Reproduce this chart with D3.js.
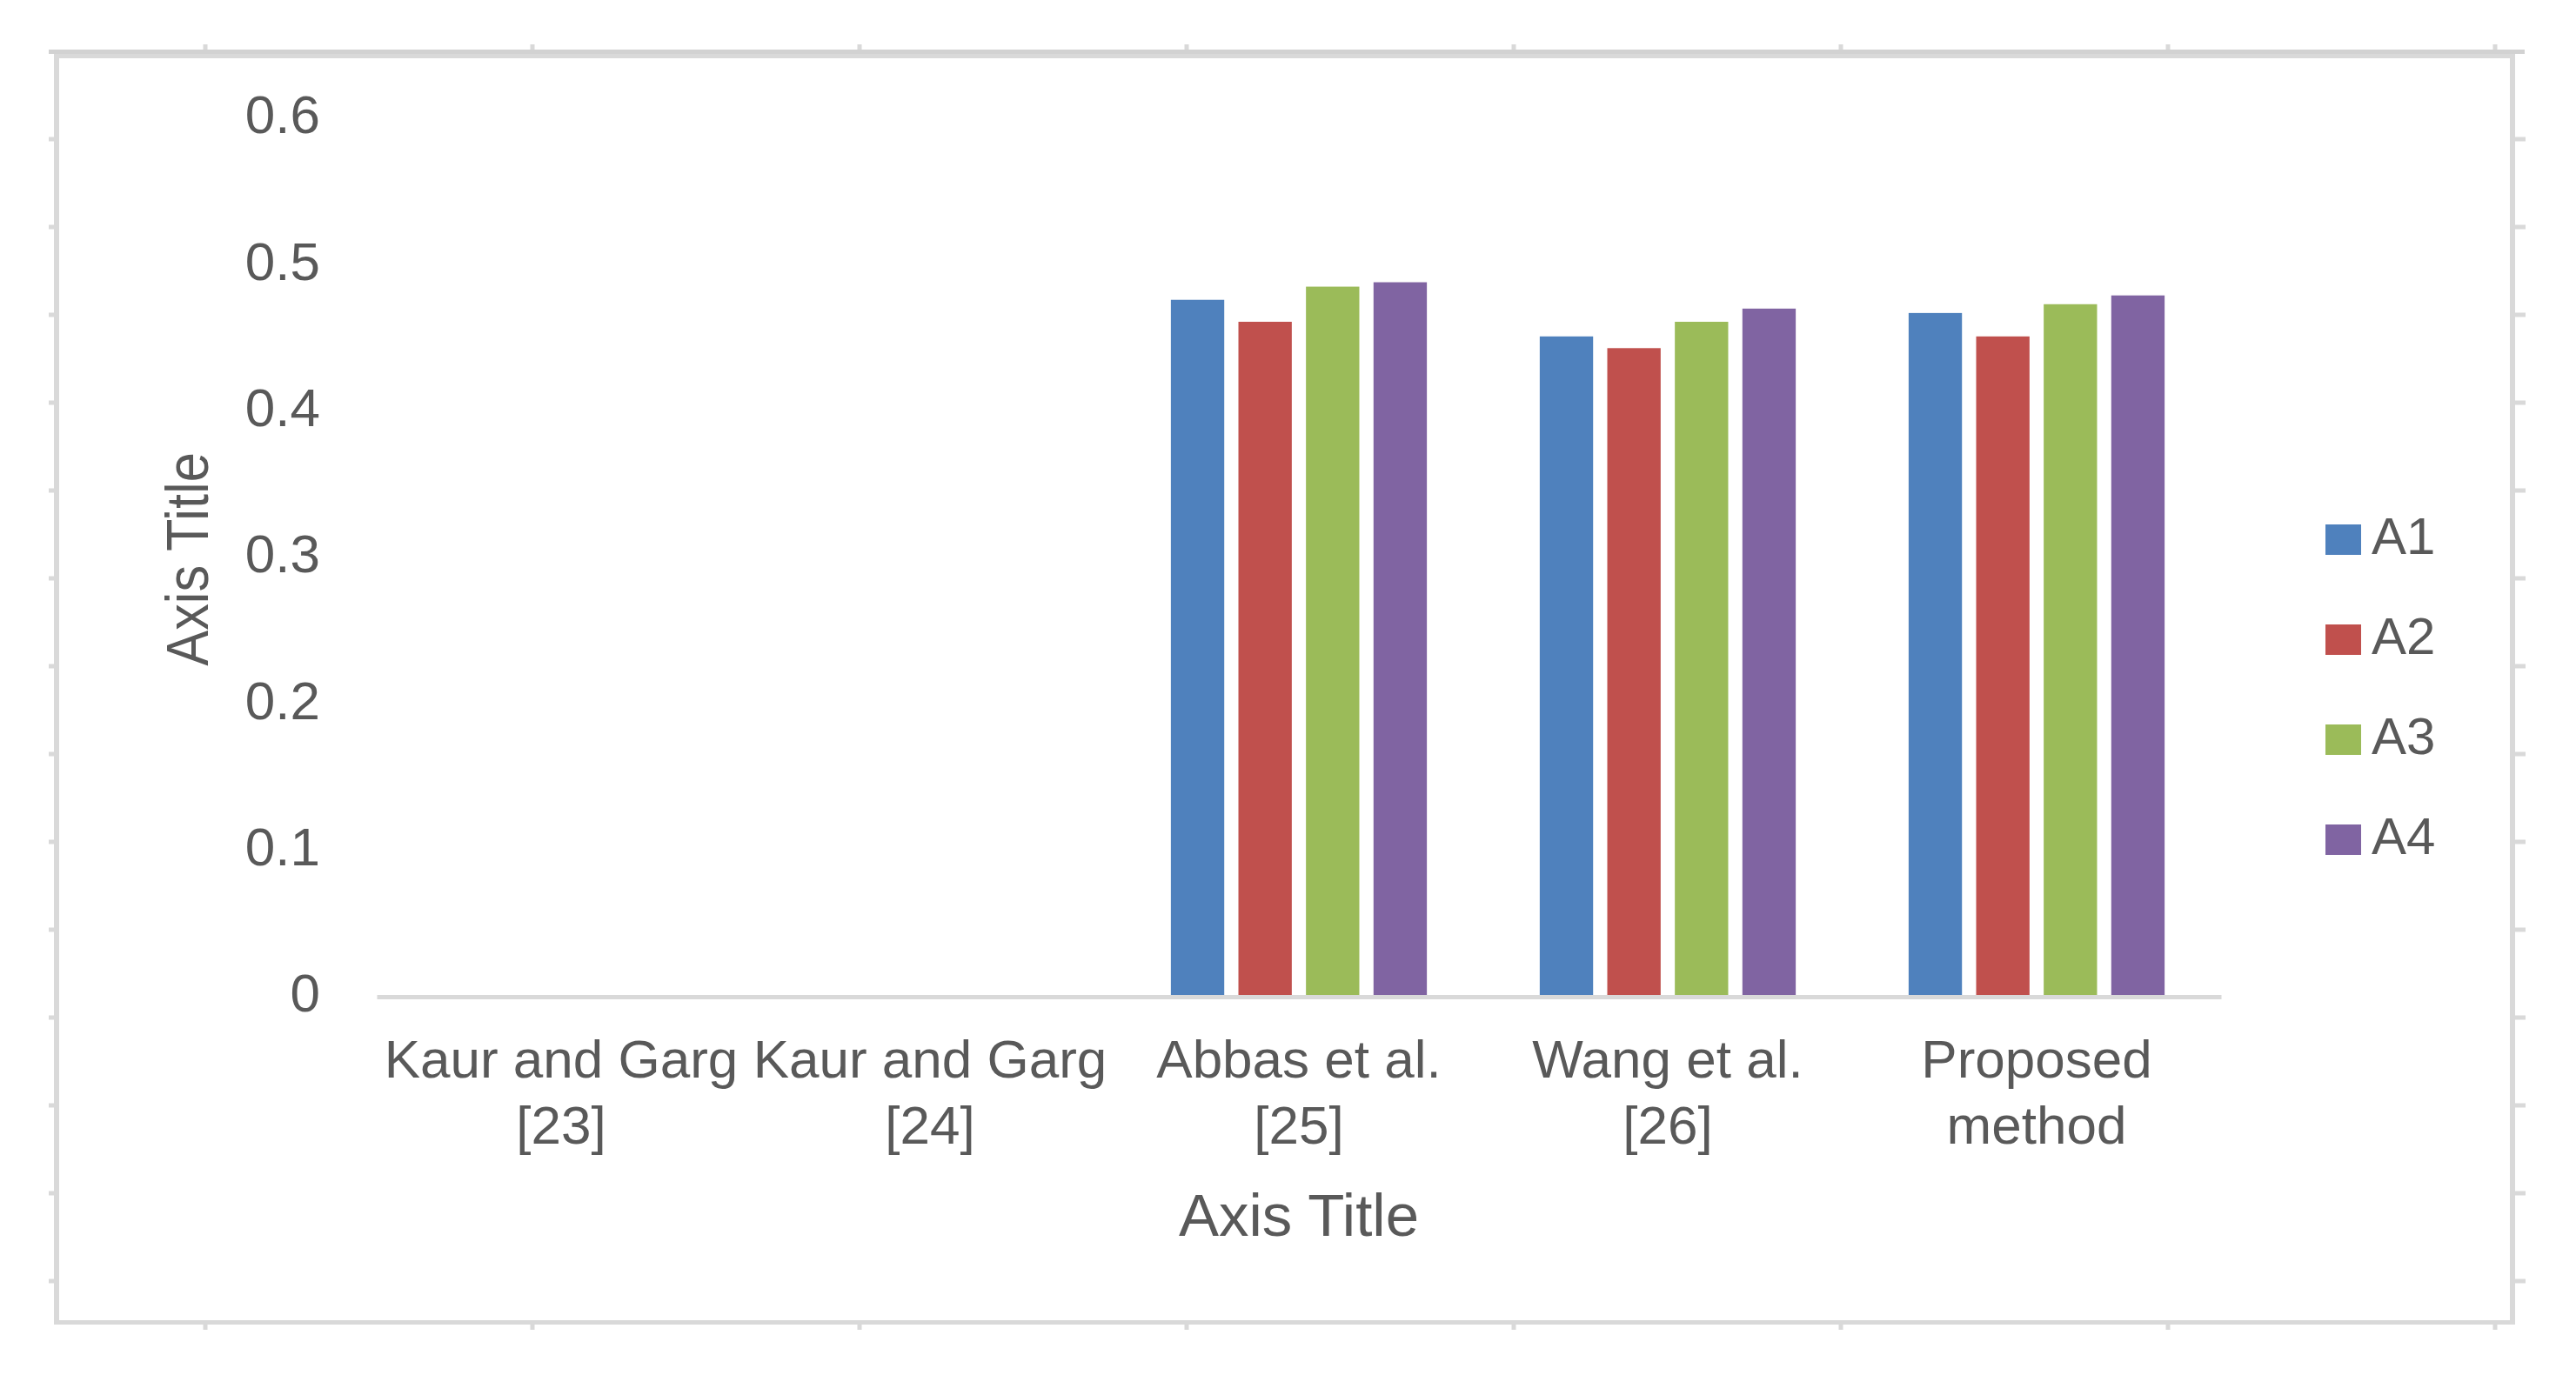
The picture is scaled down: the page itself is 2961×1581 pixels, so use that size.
<!DOCTYPE html>
<html>
<head>
<meta charset="utf-8">
<script src="https://cdn.jsdelivr.net/npm/d3@7"></script>
<style>
  html, body { margin: 0; padding: 0; background: #ffffff; }
  svg text { font-family: "Liberation Sans", Arial, sans-serif; fill: #595959; }
</style>
</head>
<body>
<svg id="chart" width="2961" height="1581"></svg>
<script>
// ---- data ----
const categories = ["Kaur and Garg [23]", "Kaur and Garg [24]", "Abbas et al. [25]", "Wang et al. [26]", "Proposed method"];
const categoryLines = [["Kaur and Garg", "[23]"], ["Kaur and Garg", "[24]"], ["Abbas et al.", "[25]"], ["Wang et al.", "[26]"], ["Proposed", "method"]];
const seriesNames = ["A1", "A2", "A3", "A4"];
const A1 = [0, 0, 0.476, 0.451, 0.467];
const A2 = [0, 0, 0.461, 0.443, 0.451];
const A3 = [0, 0, 0.485, 0.461, 0.473];
const A4 = [0, 0, 0.488, 0.470, 0.479];
const seriesValues = [A1, A2, A3, A4];
const yTicks = [0, 0.1, 0.2, 0.3, 0.4, 0.5, 0.6];
const colors = ["#4f81bd", "#c0504d", "#9bbb59", "#8064a2"];
const xTitle = "Axis Title";
const yTitle = "Axis Title";

const svg = d3.select("#chart");

// frame with ruler ticks
const frame = svg.append("g");
const fx0 = 65, fx1 = 2888, fy0 = 62, fy1 = 1520;
const frameColor = "#d9d9d9";
// top edge (thicker, two-tone)
frame.append("rect").attr("x", 56).attr("y", 57).attr("width", 2902 - 56).attr("height", 5).attr("fill", "#d2d2d2");
frame.append("rect").attr("x", 62).attr("y", 62).attr("width", 2889 - 62).attr("height", 5).attr("fill", frameColor);
// left, right, bottom edges
frame.append("rect").attr("x", 62).attr("y", 62).attr("width", 6).attr("height", 1523 - 62).attr("fill", frameColor);
frame.append("rect").attr("x", 2885).attr("y", 62).attr("width", 6).attr("height", 1523 - 62).attr("fill", frameColor);
frame.append("rect").attr("x", 62).attr("y", 1518).attr("width", 2891 - 62).attr("height", 5).attr("fill", frameColor);
for (let x = 236; x < 2890; x += 376) {
  frame.append("line").attr("x1", x).attr("x2", x).attr("y1", 57).attr("y2", 51).attr("stroke", frameColor).attr("stroke-width", 5);
  frame.append("line").attr("x1", x).attr("x2", x).attr("y1", 1523).attr("y2", 1529).attr("stroke", frameColor).attr("stroke-width", 5);
}
for (let y = 160; y < fy1; y += 101) {
  frame.append("line").attr("y1", y).attr("y2", y).attr("x1", 62).attr("x2", 56).attr("stroke", frameColor).attr("stroke-width", 5);
  frame.append("line").attr("y1", y).attr("y2", y).attr("x1", 2891).attr("x2", 2903).attr("stroke", frameColor).attr("stroke-width", 5);
}

// scales
const plotLeft = 433, plotRight = 2553;
const y = d3.scaleLinear().domain([0, 0.6]).range([1146, 136]);
const x0 = d3.scaleBand().domain(categories).range([plotLeft, plotRight]).paddingInner(0.306).paddingOuter(0.153);
const x1 = d3.scaleBand().domain(seriesNames).range([0, x0.bandwidth()]).paddingInner(0.21);
const color = d3.scaleOrdinal().domain(seriesNames).range(colors);

// y axis labels (no line)
const yAxis = d3.axisLeft(y).tickValues(yTicks).tickSize(0).tickPadding(0).tickFormat(d => d === 0 ? "0" : d3.format(".1f")(d));
const yg = svg.append("g").attr("transform", "translate(368,0)").call(yAxis);
yg.select(".domain").remove();
yg.selectAll("text").attr("font-size", 62).attr("fill", "#595959")
  .attr("font-family", "Liberation Sans, Arial, sans-serif").attr("dy", "0.32em").attr("y", -3);

// bars
const groups = svg.append("g").selectAll("g").data(categories).join("g")
  .attr("transform", d => `translate(${x0(d)},0)`);
groups.selectAll("rect")
  .data((c, i) => seriesNames.map((s, k) => ({ s, v: seriesValues[k][i] })))
  .join("rect")
  .attr("x", d => x1(d.s))
  .attr("width", x1.bandwidth())
  .attr("y", d => y(d.v))
  .attr("height", d => y(0) - y(d.v))
  .attr("fill", d => color(d.s));

// x axis baseline
const xAxis = d3.axisBottom(x0).tickSize(0).tickFormat("");
const xg = svg.append("g").attr("transform", `translate(0,${y(0)})`).call(xAxis);
xg.select(".domain").attr("stroke", "#d9d9d9").attr("stroke-width", 5);

// category labels
const labels = svg.append("g");
categories.forEach((c, i) => {
  const cx = x0(c) + x0.bandwidth() / 2;
  const t = labels.append("text").attr("text-anchor", "middle").attr("font-size", 62);
  categoryLines[i].forEach((line, j) => {
    t.append("tspan").attr("x", cx).attr("y", 1239 + j * 76).text(line);
  });
});

// axis titles
svg.append("text").attr("x", (plotLeft + plotRight) / 2).attr("y", 1421)
  .attr("text-anchor", "middle").attr("font-size", 69).text(xTitle);
svg.append("text").attr("transform", "translate(239,643) rotate(-90) scale(0.89,1)")
  .attr("text-anchor", "middle").attr("font-size", 69).text(yTitle);

// legend
const legend = svg.append("g");
seriesNames.forEach((s, i) => {
  const cy = 620 + i * 115;
  legend.append("rect").attr("x", 2673).attr("y", cy - 17).attr("width", 41).attr("height", 35).attr("fill", color(s));
  legend.append("text").attr("x", 2726).attr("y", cy + 17).attr("font-size", 60).text(s);
});
</script>
</body>
</html>
